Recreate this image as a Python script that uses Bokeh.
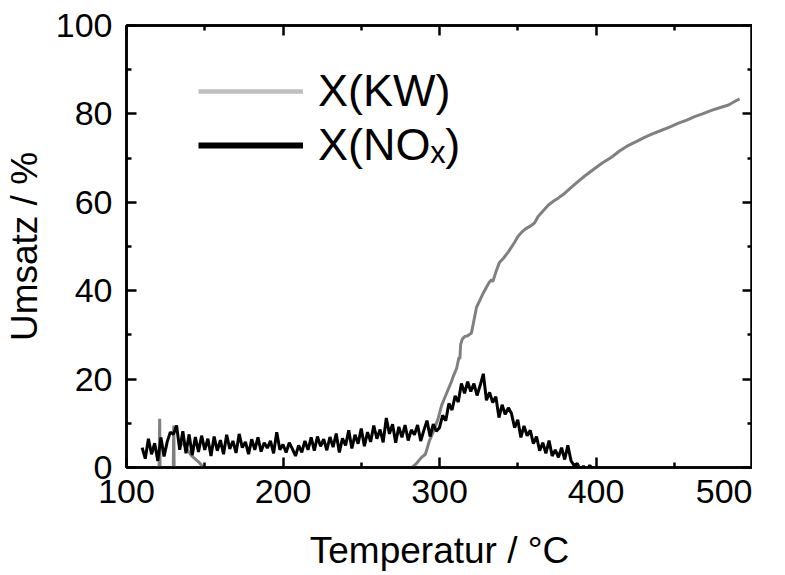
from bokeh.plotting import figure
from bokeh.models import (LinearAxis, Legend, LegendItem, Range1d, FixedTicker)
from bokeh.embed import file_html
from bokeh.resources import INLINE

nan = float("nan")

# ---- data -------------------------------------------------------------
# X(KW) main conversion curve (Temperatur in °C, Umsatz in %)
kw_T = [281, 283, 285, 288.5, 291, 293.6, 295, 296.8, 299, 301.3, 303, 305,
        307.7, 309, 311, 312.5, 313, 313.5, 314.5, 316, 318, 320.4, 322.4,
        323.6, 326, 328, 330, 332, 333.2, 334, 336.4, 338.3, 341, 344, 347.9,
        350, 352.4, 355, 358, 360.7, 363, 366, 369.6, 373, 376, 379.9, 384,
        388.8, 393, 399, 404, 409.9, 415, 420.8, 426, 431, 436, 441.9, 447,
        452.7, 458, 463, 468, 473.8, 479, 484.7, 488, 491.7]
kw_X = [-1.0, 0.2, 0.8, 2.3, 3.0, 6.1, 7.2, 8.8, 10.9, 14.0, 15.5, 17.2,
        19.5, 20.8, 22.5, 25.0, 24.5, 27.8, 29.0, 29.6, 29.8, 30.4, 34.0,
        36.2, 38.0, 39.5, 40.8, 42.0, 42.5, 42.0, 44.6, 46.4, 47.4, 48.8, 50.9,
        52.2, 53.2, 54.0, 54.6, 55.3, 56.8, 58.0, 59.4, 60.3, 61.0, 62.0, 63.3,
        64.8, 66.0, 67.6, 68.9, 70.2, 71.6, 72.9, 73.8, 74.7, 75.5, 76.3, 77.0,
        77.9, 78.6, 79.4, 80.0, 80.8, 81.4, 82.0, 82.7, 83.4]

# X(KW) low-temperature spikes (separated by gaps)
kw_low_T = [120.3, 121.2, 121.8, nan, 129.4, 130.2, 130.8, nan,
            136, 141.5, 146, 150.5]
kw_low_X = [-15, 11, -15, nan, -15, 9.5, -15, nan,
            5.5, 2.7, 1.3, -0.5]

# X(NOx)
nox_T = [110, 112, 114, 116, 118, 120, 122, 124, 126, 128, 130, 132, 134, 136,
         138, 140, 142, 144, 146, 148, 150, 152, 154, 156, 158, 160, 162, 164,
         166, 168, 170, 172, 174, 176, 178, 180, 182, 184, 186, 188, 190, 192,
         194, 196, 198, 200, 202, 204, 206, 208, 210, 212, 214, 216, 218, 220,
         222, 224, 226, 228, 230, 232, 234, 236, 238, 240, 242, 244, 246, 248,
         250, 252, 254, 256, 258, 260, 262, 264, 266, 268, 270, 272, 274, 276,
         278, 280, 282, 284, 286, 288, 290, 292, 294, 296, 298, 300, 302, 304,
         306, 308, 310, 312, 314, 316, 318, 320, 322, 324, 326, 328, 330, 332,
         334, 336, 338, 340, 342, 344, 346, 348, 350, 352, 354, 356, 358, 360,
         362, 364, 366, 368, 370, 372, 374, 376, 378, 380, 382, 384, 386, 388,
         390, 392, 394, 396, 398]
nox_X = [4.5, 2.0, 6.5, 3.0, 5.5, 1.5, 6.8, 2.5, 5.8, 8.0, 7.5, 9.5, 4.0, 8.2,
         3.2, 7.5, 2.8, 6.9, 3.5, 7.2, 4.0, 6.5, 2.6, 7.0, 3.8, 6.2, 3.0, 7.4,
         4.2, 6.0, 3.3, 7.6, 4.5, 5.8, 3.0, 6.4, 4.0, 6.8, 3.6, 5.6, 4.4, 6.0,
         3.2, 8.0, 4.0, 5.2, 3.4, 5.6, 4.2, 2.6, 5.0, 3.4, 6.0, 4.0, 6.8, 3.8,
         7.0, 4.8, 6.4, 3.9, 6.9, 4.6, 7.7, 3.4, 6.6, 5.0, 8.4, 4.3, 7.4, 5.4,
         8.8, 4.8, 8.0, 5.8, 9.5, 6.5, 8.6, 5.7, 11.2, 7.6, 9.8, 5.6, 9.2, 6.8,
         9.6, 6.1, 8.5, 7.4, 9.6, 6.0, 8.4, 10.6, 7.0, 9.8, 8.2, 9.0, 11.8, 10.6,
         14.5, 13.0, 16.2, 14.8, 19.0, 16.8, 19.4, 17.2, 19.0, 16.3, 18.6, 21.2, 15.2, 17.0,
         14.7, 16.0, 11.3, 14.2, 12.0, 13.5, 12.2, 9.0, 10.8, 6.8, 9.4, 7.2, 8.4, 5.4,
         7.0, 3.8, 5.6, 3.2, 6.1, 2.6, 4.0, 2.3, 4.5, 1.8, 5.0, 1.6, 0.4, 0.9,
         -0.5, 0.3, -0.8, 0.5, -0.5]

x_ticks = [100, 200, 300, 400, 500]
x_minor = [150, 250, 350, 450]
y_ticks = [0, 20, 40, 60, 80, 100]
y_minor = [10, 30, 50, 70, 90]

# ---- figure -----------------------------------------------------------
FONT = "Liberation Sans"

p = figure(frame_width=626, frame_height=442, output_backend="svg",
           toolbar_location=None,
           x_range=Range1d(100, 500), y_range=Range1d(0, 100),
           min_border_left=125, min_border_right=0, min_border_top=25,
           min_border_bottom=100)
p.grid.visible = False
p.outline_line_color = "black"
p.outline_line_width = 2.5
p.background_fill_color = "white"
p.border_fill_color = "white"


def style_axis(ax):
    ax.axis_line_color = "black"
    ax.axis_line_width = 2.5
    ax.major_tick_in = 10
    ax.major_tick_out = 0
    ax.minor_tick_in = 5
    ax.minor_tick_out = 0
    ax.major_tick_line_width = 2.5
    ax.minor_tick_line_width = 2.5
    ax.major_tick_line_color = "black"
    ax.minor_tick_line_color = "black"
    ax.major_label_text_font = FONT
    ax.major_label_text_font_size = "34px"
    ax.major_label_text_color = "black"
    ax.axis_label_text_font = FONT
    ax.axis_label_text_font_size = "37px"
    ax.axis_label_text_font_style = "normal"
    ax.axis_label_text_color = "black"


p.xaxis.ticker = FixedTicker(ticks=x_ticks, minor_ticks=x_minor)
p.yaxis.ticker = FixedTicker(ticks=y_ticks, minor_ticks=y_minor)
for ax in p.xaxis + p.yaxis:
    style_axis(ax)
p.xaxis.axis_label = "Temperatur / °C"
p.yaxis.axis_label = "Umsatz / %"
p.xaxis.major_label_standoff = 12
p.yaxis.major_label_standoff = 14
p.xaxis.axis_label_standoff = 24
p.yaxis.axis_label_standoff = 8

# frame ticks on top and right (no labels)
top = LinearAxis(ticker=FixedTicker(ticks=x_ticks, minor_ticks=x_minor))
right = LinearAxis(ticker=FixedTicker(ticks=y_ticks, minor_ticks=y_minor))
for ax in (top, right):
    style_axis(ax)
    ax.major_label_text_font_size = "1px"
    ax.major_label_text_alpha = 0
    ax.major_label_standoff = 0
top.major_label_overrides = {t: " " for t in x_ticks}
right.major_label_overrides = {t: " " for t in y_ticks}
p.add_layout(top, "above")
p.add_layout(right, "right")

# data lines
p.line(kw_low_T, kw_low_X, line_color="#808080", line_width=3)
p.line(kw_T, kw_X, line_color="#808080", line_width=3)
p.line(nox_T, nox_X, line_color="black", line_width=3)

# legend glyph renderers (legend styles only, no visible data)
leg_kw = p.line(x=[nan, nan], y=[nan, nan], line_color="#bebebe", line_width=4.5)
leg_nox = p.line(x=[nan, nan], y=[nan, nan], line_color="black", line_width=6)

legend = Legend(items=[LegendItem(label="X(KW)", renderers=[leg_kw]),
                       LegendItem(label="X(NOₓ)", renderers=[leg_nox])],
                location=(72, 296))
legend.label_text_font = FONT
legend.label_text_font_size = "45px"
legend.label_text_color = "black"
legend.glyph_width = 105
legend.glyph_height = 30
legend.label_standoff = 15
legend.spacing = 2
legend.padding = 0
legend.margin = 0
legend.border_line_color = None
legend.background_fill_alpha = 0
p.add_layout(legend, "center")

open("out.html", "w").write(file_html(p, INLINE))
